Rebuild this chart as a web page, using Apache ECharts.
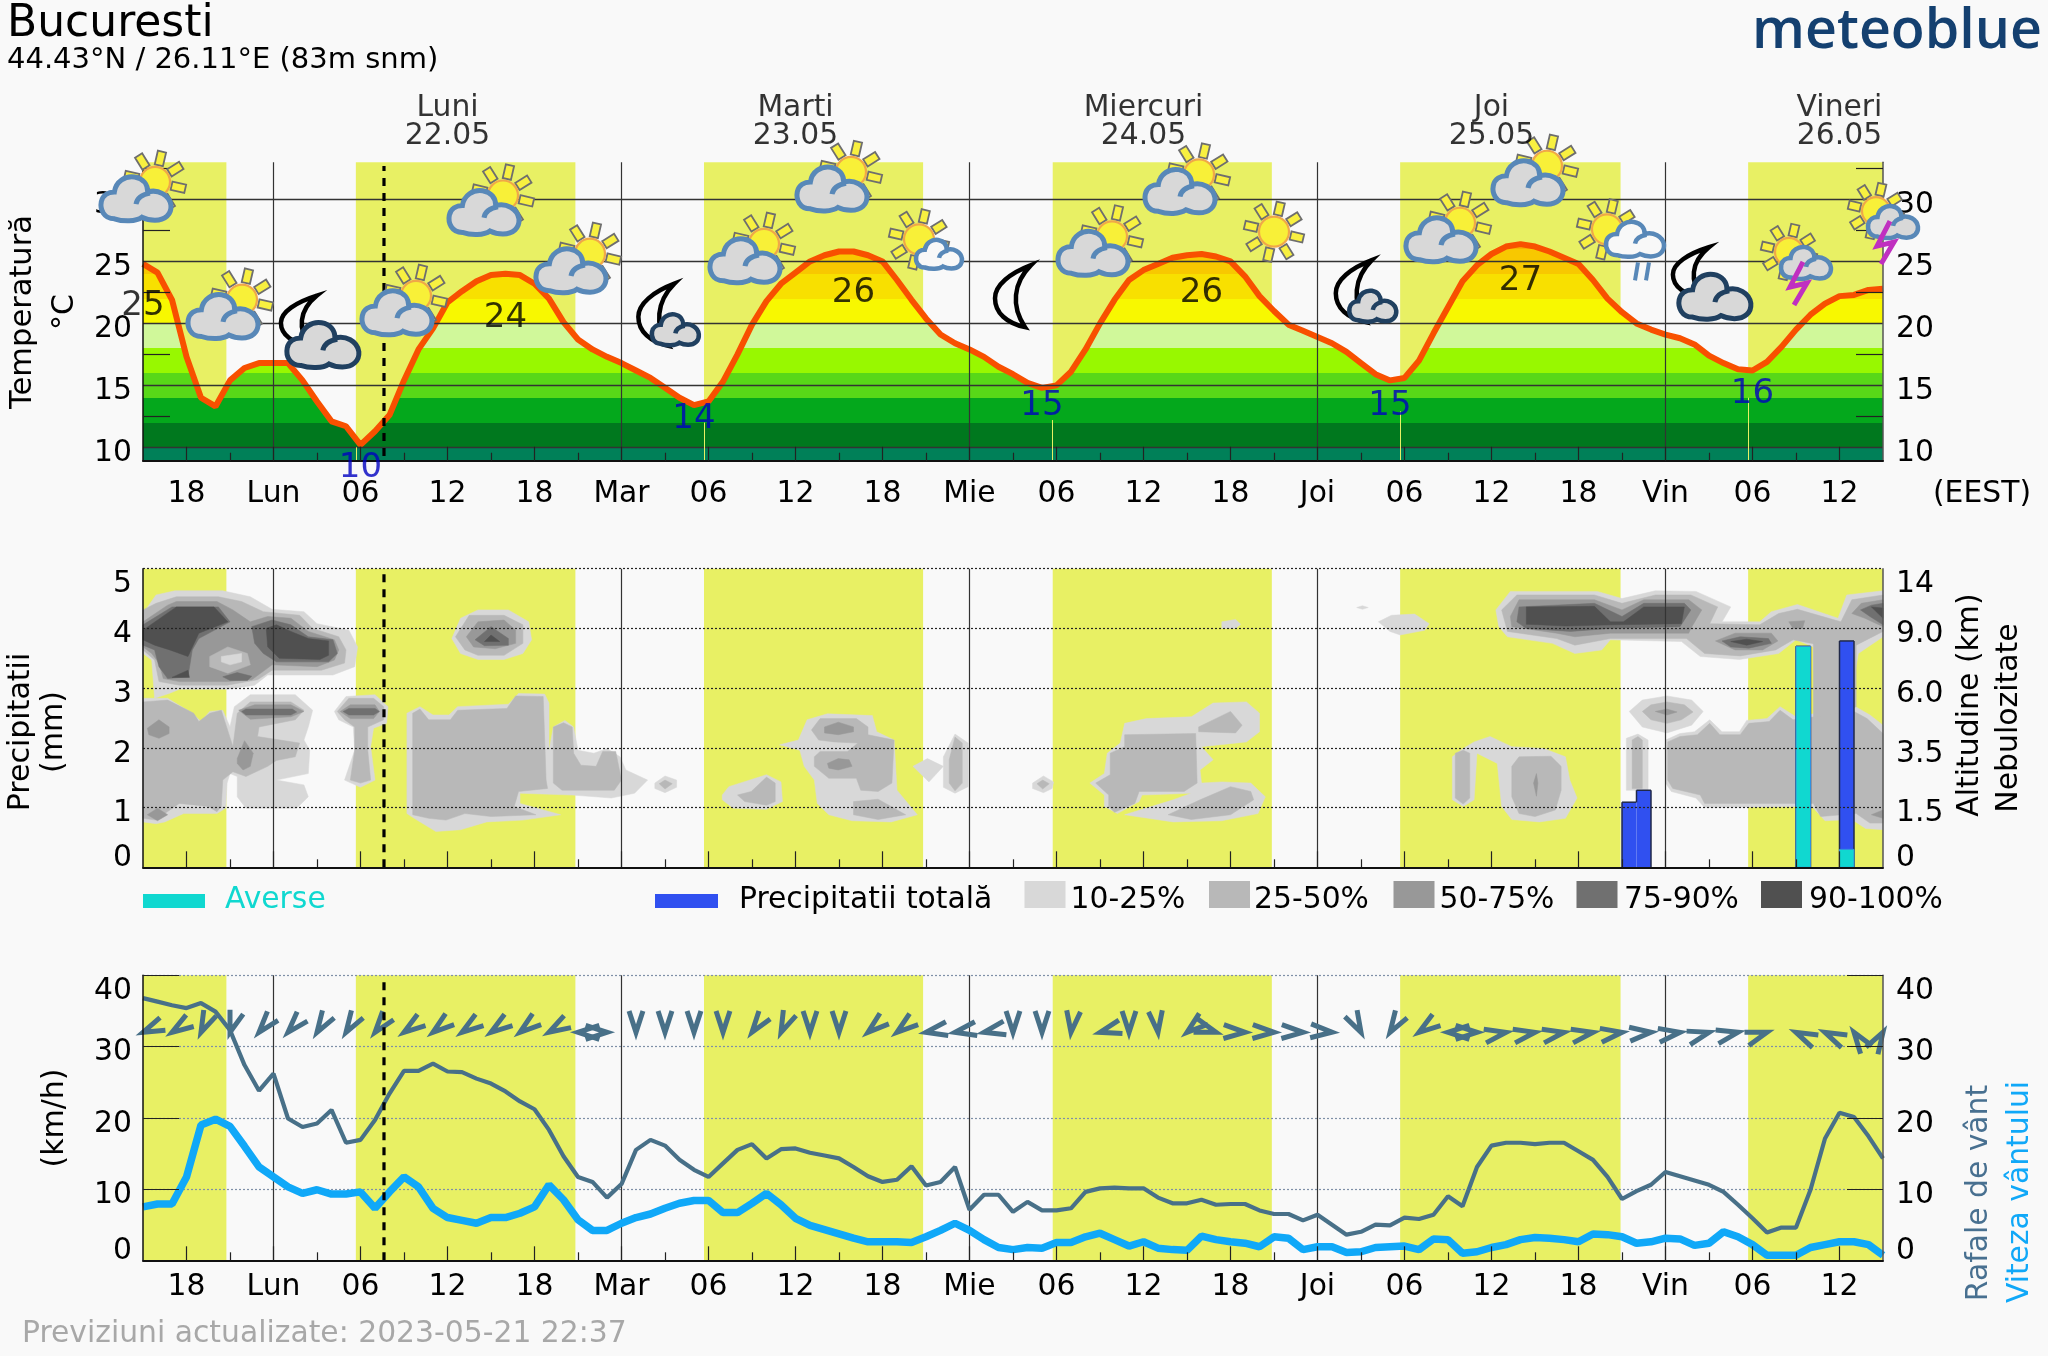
<!DOCTYPE html>
<html>
<head>
<meta charset="utf-8">
<style>html,body{margin:0;padding:0;background:#F9F9F9}#c{width:2048px;height:1356px}</style>
<script src="https://cdn.jsdelivr.net/npm/echarts@6/dist/echarts.min.js"></script>
</head>
<body>
<div id="c"></div>
<script>
// ---- hourly series, hour 0 = Sunday 15:00 ----
const temperature = [24.8,24.1,21.9,17.3,14.0,13.3,15.4,16.4,16.8,16.8,16.8,15.4,13.7,12.1,11.7,10.2,11.3,12.6,15.4,17.9,19.6,21.7,22.6,23.4,23.9,24.0,23.9,23.2,22.0,20.1,18.7,17.9,17.3,16.8,16.2,15.6,14.8,14.0,13.4,
13.7,15.3,17.5,19.9,21.8,23.2,24.1,25.0,25.5,25.8,25.8,25.5,25.0,23.5,21.9,20.4,19.1,18.4,17.9,17.3,16.5,15.9,15.2,14.8,15.0,16.1,17.9,20.0,21.9,23.5,24.3,24.8,25.3,25.5,25.6,25.4,25.0,23.8,22.2,21.0,19.9,19.4,18.9,18.4,17.7,
16.8,15.9,15.4,15.6,17.0,19.2,21.3,23.4,24.7,25.6,26.2,26.4,26.2,25.8,25.3,24.8,23.5,22.0,20.9,20.0,19.5,19.1,18.8,18.3,17.4,16.8,16.3,16.2,16.9,18.1,19.5,20.7,21.6,22.2,22.3,22.7,22.8];
const gusts = [36.8,36.3,35.8,35.4,36.1,34.9,32.3,27.4,23.8,26.2,19.9,18.7,19.2,21.1,16.5,16.9,19.7,23.4,26.6,26.6,27.6,26.5,26.4,25.5,24.8,23.7,22.3,21.2,18.3,14.6,11.7,11,8.8,10.7,15.5,16.9,16.1,14.1,12.7,
11.7,13.6,15.5,16.3,14.3,15.6,15.7,15.1,14.7,14.3,13.1,11.8,11,11.3,13.2,10.5,11,13.1,7.1,9.2,9.2,6.8,8.2,7,7,7.3,9.6,10.1,10.2,10.1,10.1,8.8,8,8,8.5,7.8,7.9,7.9,7,6.5,6.5,5.6,6.4,5,3.6,
4,5,4.9,6,5.8,6.4,9,7.6,13.1,16.1,16.5,16.5,16.3,16.5,16.5,15.3,14.1,11.7,8.6,9.7,10.6,12.4,11.8,11.2,10.6,9.6,7.8,5.9,3.9,4.6,4.6,9.9,17.1,20.7,20.1,17.4,14.3];
const windSpeed = [7.5,7.9,7.9,11.7,19,19.8,18.8,16,13.1,11.7,10.3,9.4,9.9,9.3,9.3,9.6,7.3,9.6,11.7,10.3,7.3,6,5.6,5.2,6,6,6.6,7.5,10.6,8.5,5.7,4.2,4.2,5.2,6,6.5,7.3,8,8.4,
8.4,6.7,6.7,8,9.4,7.8,5.9,4.9,4.3,3.7,3.1,2.6,2.6,2.6,2.5,3.3,4.2,5.2,4.2,2.9,1.8,1.5,1.8,1.7,2.5,2.5,3.3,3.8,2.9,2,2.6,1.7,1.5,1.4,3.4,2.9,2.6,2.4,1.9,3.3,3.1,1.5,1.9,1.9,1.1,
1.2,1.8,1.9,2,1.5,3,2.9,1,1.2,1.8,2.2,2.9,3.2,3.1,2.9,2.6,3.7,3.6,3.3,2.4,2.6,3.1,3,2.1,2.4,4,3.3,2.2,0.7,0.7,0.7,1.8,2.2,2.6,2.6,2.2,0.7];
// direction the wind arrow points, every second hour, degrees clockwise from north
const windBearing = [247,237,205,198,220,222,212,212,218,235,232,235,235,232,240,270,90,180,180,180,180,216,204,180,180,230,232,260,260,258,180,180,187,255,180,173,231,108,92,92,92,94,152,212,235,270,90,80,80,80,80,82,85,82,75,78,72,295,295,325,31];

// ---- x axis ----
const tickHours  = [3,9,15,21,27,33,39,45,51,57,63,69,75,81,87,93,99,105,111,117];
const tickLabels = ['18','Lun','06','12','18','Mar','06','12','18','Mie','06','12','18','Joi','06','12','18','Vin','06','12'];
const minorHours = [6,12,18,24,30,36,42,48,54,60,66,72,78,84,90,96,102,108,114];
const midnightHours = [9,33,57,81,105];
const dayNames  = ['Luni','Marti','Miercuri','Joi','Vineri'];
const dayDates  = ['22.05','23.05','24.05','25.05','26.05'];
const dayCentreHours = [21,45,69,93,117];
const nowHour = 16.62;
const sunrise = [0,14.68,38.69,62.74,86.7,110.7];
const sunset  = [5.75,29.82,53.8,77.85,101.9,120];
const sunriseMarkHours = [14.68,38.69,62.74,86.7,110.7];
const sunriseMarkTops  = [10,12,12.2,12.9,14];

// ---- temperature extremes ----
const maxHours = [0,25,49,73,95];
const maxTemps = [25,24,26,26,27];
const minHours = [15,38,62,86,111];
const minTemps = [10,14,15,15,16];

// ---- weather symbols ----
const iconHours = [0,6,12.2,18,24,30,36.3,42,48,54,60,66,72,78,84.4,90,96,102,108.2,114,120];
const iconTemps = [31.1,21.6,19.3,21.9,30,25.3,20.7,26.1,31.9,26.7,22.2,26.7,31.7,27.4,22.6,27.8,32.4,26.7,23.2,25.2,28.5];
const iconKinds = ['sunCloud','sunCloud','moonCloud','sunCloud','sunCloud','sunCloud','moonSmall','sunCloud','sunCloud','sunSmall','moon','sunCloud','sunCloud','sun','moonSmall','sunCloud','sunCloud','sunRain','moonCloud','sunThunder','sunThunder'];

// ---- precipitation ----
const rainHours = [102.5,103.5,114.5,117.5];
const rainTotal = [1.09,1.29,3.7,3.79];
const rainShower = [0,0,3.7,0.3];
const altitudeLabels = ['0','1.5','3.5','6.0','9.0','14'];

// ---- cloud contours: flat lists of hour, level ----
const cloud10 = [
[0,4.25,.9,4.56,2.2,4.63,5.5,4.63,7.4,4.53,8.9,4.32,11.1,4.28,12,4.08,14.2,3.97,14.8,3.69,14.6,3.36,13.1,3.22,8.6,3.22,7.7,3.05,5.8,2.98,2.5,2.98,1.8,2.91,.8,2.83,.6,3.47,0,3.58],
[0,2.83,1.7,2.83,3.4,2.58,4,2.44,4.6,2.61,5.5,2.63,6,2.35,6.3,2.69,7.4,2.89,10.5,2.89,11.7,2.63,11.4,2.35,11.1,2.13,11.5,1.96,11.4,1.57,9.2,1.46,11.1,1.38,11.4,1.18,10.6,.99,7.1,.99,6.5,1.18,6.5,1.52,6,1.57,5.8,1.41,5.7,.99,5.1,.9,2.8,.9,1.5,.76,.9,.73,0,.76],
[13.2,2.61,14,2.86,16,2.89,16.9,2.69,16.8,2.41,15.9,2.33,15.7,2.02,16,1.46,15,1.34,13.9,1.46,14.6,1.96,14.5,2.35,13.5,2.47],
[21.3,3.83,21.9,4.17,23.1,4.31,25.2,4.31,26.6,4.11,26.8,3.81,26.2,3.58,24.9,3.48,23.1,3.48,21.9,3.58],
[18.2,2.58,19.1,2.69,20,2.55,21.1,2.55,21.7,2.69,25.2,2.73,25.9,2.91,27.7,2.9,28,2.75,28,1.96,28.3,2.35,29.1,2.46,29.7,2.35,30,1.96,31.1,1.91,32,1.99,32.9,1.85,33.3,1.63,34.8,1.46,33.9,1.24,32.3,1.16,29.6,1.21,26,1.24,26,1.07,28.8,.88,26.2,.79,23.7,.76,21.9,.63,20.2,.6,18.9,.79,18.2,.9],
[35.3,1.41,36,1.53,36.8,1.46,36.8,1.34,36,1.25,35.3,1.32],
[39.95,1.21,40.4,1.35,43,1.55,44,1.43,44.1,1.1,43,.97,40.7,.99,39.95,1.13],
[43.9,2.05,45.2,2.13,45.8,2.47,47.2,2.57,50.3,2.54,50.6,2.27,51.8,2.13,52,1.29,53.4,.88,51.6,.76,48.9,.78,47.3,.88,46.5,1.07,46.3,1.46,45.6,1.69,45.3,1.96],
[53.1,1.69,54.1,1.82,55.2,1.69,54.2,1.43],
[55.2,1.85,56,2.23,56.9,2.08,56.9,1.35,56,1.24,55.2,1.34],
[61.35,1.41,62.1,1.53,62.8,1.43,62.7,1.32,62.1,1.25,61.35,1.32],
[65.3,1.41,66.3,1.57,66.5,1.91,67.4,2.08,67.7,2.41,69.2,2.49,72.3,2.52,73.8,2.75,76.1,2.77,77,2.58,77,2.27,76.1,2.1,73,2.02,73.8,1.8,72.9,1.63,73,1.41,74.4,1.43,76.4,1.41,77.4,1.18,76.9,.9,74.4,.78,71.05,.76,67.7,.88,71.05,1.13,72.3,1.24,68.9,1.21,68.7,1.1,67.2,.9,66.3,1.02,66.3,1.21],
[74.4,4.11,75.35,4.15,75.7,4.07,75.35,4,74.4,4],
[83.7,4.35,84.1,4.38,84.5,4.35,84.1,4.32],
[85.2,4.11,86.1,4.22,87.7,4.24,88.7,4.08,88.4,3.97,86.7,3.89,86,3.95],
[90.3,1.85,91.05,1.99,91.8,2.1,92.9,2.19,94.4,2.02,96.6,1.99,98.1,1.85,98.4,1.46,98.9,1.16,98.1,.82,96.3,.76,94.4,.8,93.7,1.02,93.4,1.74,92,1.91,91.8,1.13,91.05,1.02,90.3,1.13],
[93.3,4.31,94.3,4.62,100.3,4.62,102,4.5,104.3,4.63,107.1,4.62,109.5,4.36,108.9,4.11,111.5,4.11,112.3,4.28,114.1,4.4,116.9,4.17,117.5,4.56,120,4.63,120,3.86,118.3,3.58,118.1,3.3,115.2,3.3,115.2,3.69,114,3.81,112.8,3.58,110.1,3.48,107.4,3.53,106.1,3.78,101.2,3.81,100.6,3.64,98.75,3.58,97.2,3.75,94.1,3.86,93.5,4.03],
[102.5,2.61,103.4,2.8,105.1,2.87,106.8,2.8,107.6,2.61,106.8,2.38,105.1,2.25,103.4,2.35],
[102.3,2.16,103.1,2.23,103.8,2.13,103.8,1.29,102.3,1.29],
[105,2.13,106,2.24,107,2.27,108.05,2.47,108.9,2.27,110.1,2.27,110.6,2.46,112,2.49,112.9,2.69,114,2.52,118.1,2.69,119.1,2.55,120,2.38,120,.63,118.8,.65,117.85,.8,116,.78,115.1,1.02,107.7,1,107.1,1.16,105.4,1.27,105,1.41]
];
const cloud25 = [
[0,4.31,.9,4.42,2.3,4.53,5.2,4.53,6.8,4.45,8.3,4.28,10.8,4.22,11.7,4,13.5,3.86,14,3.64,13.9,3.42,12.3,3.3,8.9,3.3,7.9,3.14,5.8,3.05,2.5,3.05,1.1,3.11,.8,3.47,0,3.64],
[0,2.77,1.7,2.8,3.5,2.58,3.85,2.44,4.6,2.58,5.4,2.63,6.2,2.02,6.5,2.58,7.4,2.77,10.2,2.77,11.1,2.63,10.5,2.47,8,2.35,7.9,2.19,10.8,2.08,10.5,1.85,9.2,1.79,8.6,1.69,7.1,1.52,6.2,1.6,5.5,1.46,5.4,1.02,5.1,.93,4.5,1.02,2.5,1.07,1.5,.9,.9,.79,0,.82],
[13.4,2.61,14.2,2.83,15.9,2.83,16.6,2.69,16.6,2.47,15.5,2.35,15.5,1.96,15.7,1.46,15,1.41,14.3,1.46,14.6,1.96,14.6,2.35,13.9,2.47],
[21.55,3.86,22.5,4.22,24.9,4.22,26.2,4.06,26.2,3.75,24.9,3.55,23.1,3.55,22.2,3.64],
[18.6,2.58,19.1,2.65,19.7,2.47,21.2,2.47,21.7,2.63,25.1,2.66,25.7,2.87,27.6,2.86,27.8,1.46,27.9,1.32,25.9,1.27,25.6,1.02,27.1,.88,24,.85,22.2,.9,20.9,.79,19.7,.82,18.6,.88],
[28.3,2.35,29,2.42,29.6,2.35,29.7,1.91,30.2,1.71,31.25,1.69,31.7,1.94,32.6,1.94,33,1.46,32.5,1.29,28.9,1.29,28.3,1.41],
[35.6,1.4,36,1.46,36.5,1.4,36,1.31],
[41,1.21,41.95,1.27,43,1.51,43.6,1.41,43.6,1.1,43,1.04,41.5,1.1],
[46.1,2.3,46.7,2.49,49.2,2.49,50,2.35,50,2.22,51.8,2.13,51.65,1.41,50.7,1.27,49.5,1.29,49.2,1.49,47.3,1.49,46.3,1.69,46.3,1.85,46.7,1.94,48.6,1.94,49.3,2.08,47.65,2.1,46.6,2.13],
[49,1.1,50.7,1.14,52.6,.88,50.7,.8,49,.88],
[55.6,1.8,56,2.18,56.5,2.08,56.5,1.41,56,1.28,55.6,1.41],
[61.65,1.4,62.05,1.46,62.5,1.4,62.05,1.31],
[65.7,1.41,66.7,1.55,66.7,1.91,67.7,2.02,67.7,2.22,72.6,2.24,72.7,1.41,71.8,1.27,68.7,1.27,68.4,1.07,67,.92,66.6,1.02,66.6,1.21],
[72.8,2.35,75,2.61,75.8,2.38,75.35,2.25,72.8,2.27],
[70.7,.88,72.9,1.13,75,1.35,76.4,1.27,76.6,1.13,75,.88,72.3,.8],
[90.5,1.91,91.05,1.96,91.5,1.91,91.5,1.16,91.05,1.06,90.5,1.16],
[94.4,1.69,94.9,1.85,97.1,1.86,97.8,1.69,97.8,1.29,97.4,.96,96,.85,94.9,.9,94.4,1.18],
[93.7,4.31,94.75,4.56,100.1,4.56,102,4.42,104.3,4.56,106.75,4.56,108.6,4.36,108.05,4.08,111.5,4.06,112.8,4.25,114.1,4.32,117.1,4.11,117.85,4.48,120,4.56,120,3.95,118.15,3.72,115.7,3.72,113.8,3.81,112.6,3.64,110.15,3.54,107.7,3.58,106.45,3.83,101.2,3.83,98.75,3.72,97.5,3.83,94.1,3.95],
[115.2,3.75,118.15,3.75,118.15,2.69,115.2,2.35],
[103.4,2.61,104,2.72,105.1,2.77,106.3,2.72,106.9,2.6,106.1,2.47,105.1,2.41,104,2.47],
[102.7,2.13,103.1,2.19,103.4,2.13,103.4,1.32,102.7,1.32],
[105.15,2.1,106,2.19,107.2,2.22,108.05,2.41,108.75,2.22,110.15,2.22,110.75,2.41,112.15,2.44,112.9,2.63,113.8,2.47,118,2.61,118.9,2.49,120,2.24,120,.74,119.1,.74,118.15,.9,115.7,.85,115.2,1.07,107.7,1.07,107.4,1.21,105.5,1.32,105.15,1.46]
];
const cloud50 = [
[0,4.11,1.7,4.39,2.3,4.45,5.1,4.45,6.2,4.31,7.4,4.11,8.6,4.2,10.2,4.17,11.4,3.95,13.2,3.81,13.5,3.64,13.2,3.47,12,3.36,8.9,3.39,7.5,3.14,5.8,3.11,2.5,3.11,1.4,3.16,1.1,3.42,.6,3.58,0,3.69],
[.3,2.33,1.1,2.47,1.8,2.35,1.8,2.24,1.1,2.16,.4,2.22],
[6.5,1.82,7,2.12,7.6,1.91,7.4,1.69,6.9,1.63,6.5,1.74],
[6.6,2.63,7.7,2.72,10.2,2.72,11.1,2.61,10.2,2.52,7.4,2.48],
[13.6,2.61,14.3,2.72,16,2.72,16.3,2.61,15.9,2.49,14.3,2.49],
[22.3,3.86,23.1,4.11,24.9,4.14,25.7,3.97,25.7,3.75,24.3,3.66,22.8,3.69],
[.3,.88,1,.99,1.7,.88,1,.78],
[47,2.35,47.95,2.43,49,2.35,49,2.27,47.95,2.22,47,2.25],
[47.2,1.74,47.95,1.82,48.7,1.8,48.9,1.69,47.95,1.63,47.3,1.66],
[95.9,1.41,96.1,1.57,96.2,1.41,96.1,1.19],
[94.3,4.2,94.9,4.48,100.1,4.48,102,4.31,103.5,4.48,106.6,4.48,107.5,4.31,106.75,4,106.6,3.92,101.2,3.92,98.75,3.86,97.5,3.92,94.4,4.03],
[108.45,3.79,109.8,3.92,112.3,3.92,112.75,3.79,111.7,3.64,109.8,3.64],
[117.85,4.25,118.5,4.42,120,4.48,120,4.03,118.75,4.17],
[113.5,4.11,114.6,4.13,114.45,4,113.8,4],
[104.3,2.61,105.1,2.65,105.8,2.6,105.1,2.55],
[119.2,.88,120,.96,120,.82]
];
const clearing25 = [[4.6,3.53,5.85,3.69,7.2,3.58,7.4,3.39,5.85,3.25,4.6,3.36]];
const clearing10 = [[5.4,3.53,6.8,3.58,6.8,3.44,6,3.39,5.4,3.44]];
const cloud75 = [
[0,4.06,2,4.36,5.2,4.36,6,4.11,3.85,3.83,3.4,3.64,3.1,3.19,1.7,3.16,1.1,3.36,.8,3.64,0,3.72],
[7.5,4.03,8.9,4.14,10.2,4.06,11.4,3.86,13.1,3.81,13.4,3.58,12.8,3.44,9.2,3.44,8.3,3.58,7.7,3.75],
[5.5,3.19,6.5,3.26,7.5,3.2,7.2,3.13,6,3.13],
[6.8,2.61,7.1,2.65,10.3,2.65,10.6,2.6,10.2,2.55,7.1,2.55],
[13.8,2.61,14.2,2.66,16,2.66,16.3,2.61,15.9,2.55,14.2,2.55],
[22.9,3.81,24,4.03,25.2,3.83,25.2,3.72,23.55,3.71],
[94.9,4.36,100.1,4.42,102,4.2,103.5,4.42,106.3,4.42,106.75,4.31,106,4.03,101.2,4,98.45,3.95,95.4,4,94.75,4.11],
[108.9,3.79,110.15,3.86,112.1,3.83,112.3,3.75,110.75,3.67,109.5,3.69],
[118.45,4.31,119.2,4.39,120,4.42,120,4.06,119.1,4.2]
];
const cloud90 = [
[0,3.97,2.3,4.36,4.9,4.36,5.85,4.11,3.85,3.92,3.1,3.53,1.85,3.64,.8,3.72,0,3.81],
[2,3.18,3.1,3.3,3.2,3.18],
[8.5,4,9.2,4.06,10.2,3.95,11.4,3.83,12.8,3.79,12.8,3.55,12.2,3.48,9.4,3.5,8.6,3.69],
[23.55,3.78,24,3.89,24.6,3.78],
[95.4,4.36,100.1,4.37,101.2,4.11,102.1,4.11,103.5,4.36,106.3,4.36,106.1,4.08,101.5,4.06,98.1,4.04,95.4,4.07],
[109.5,3.78,110.6,3.82,111.7,3.78,110.6,3.72],
[119.2,4.36,120,4.34,120,4.17]
];

// ---- styling ----
const FONT = '"DejaVu Sans"';
const FS = 29.8;
const X0 = 143, XW = 1740;
const YELLOW = '#E8F064', DASH = '#000';
const TEMP_PIECES = [
 {lt:10,color:'#008058'},{gte:10,lt:12,color:'#00781E'},{gte:12,lt:14,color:'#04A81C'},{gte:14,lt:16,color:'#58D818'},
 {gte:16,lt:18,color:'#98F800'},{gte:18,lt:20,color:'#D0F89A'},{gte:20,lt:22,color:'#F8F800'},{gte:22,lt:24,color:'#F8E000'},
 {gte:24,lt:26,color:'#F8C800'},{gte:26,color:'#F8B000'}];

const ranges = [[8.92,33],[0,5],[0,40]];
const grids = [
 {left:X0,width:XW,top:162.3,height:298.4},
 {left:X0,width:XW,top:568.7,height:298.6},
 {left:X0,width:XW,top:975.3,height:285}
];
const xAxes = [], yAxes = [];
const xMargins = [19,0,12];
[0,1,2].forEach(i=>{
  const major = i===1 ? 16 : 14;
  xAxes.push({type:'value',gridIndex:i,min:0,max:120,interval:3,position:'bottom',z:8,
    axisLine:{show:true,onZero:false,lineStyle:{color:'#111',width:2}},
    axisTick:{show:true,inside:true,length:major,customValues:tickHours,lineStyle:{color:'#222',width:1.2}},
    axisLabel:{show:i!==1,customValues:tickHours,formatter:v=>tickLabels[tickHours.indexOf(v)],fontFamily:FONT,fontSize:FS,color:'#000',margin:xMargins[i],hideOverlap:false},
    splitLine:{show:false}});
  xAxes.push({type:'value',gridIndex:i,min:0,max:120,interval:3,position:'bottom',z:8,
    axisLine:{show:false,onZero:false},
    axisTick:{show:true,inside:true,length:8,customValues:minorHours,lineStyle:{color:'#222',width:1.2}},
    axisLabel:{show:false},splitLine:{show:false}});
});
const labelVals = [[10,15,20,25,30],[0,1,2,3,4,5],[0,10,20,30,40]];
const tickVals  = [[12.5,17.5,22.5,27.5,32.5],[0],[10,20,30,40]];
const tickLens  = [27,0,36];
const labelTokens = {
  m:{fontFamily:FONT,fontSize:FS,color:'#000',padding:[12,0,0,0]},
  t:{fontFamily:FONT,fontSize:FS,color:'#000',lineHeight:32},
  b:{fontFamily:FONT,fontSize:FS,color:'#000',lineHeight:18}
};
[0,1,2].forEach(i=>{
  ['left','right'].forEach(side=>{
    yAxes.push({type:'value',gridIndex:i,min:ranges[i][0],max:ranges[i][1],position:side,z:8,
      axisLine:{show:true,onZero:false,lineStyle:{color:side==='left'?'#111':'#555',width:1.5}},
      axisTick:{show:tickLens[i]>0,inside:true,length:tickLens[i],customValues:tickVals[i],lineStyle:{color:'#222',width:1.2}},
      axisLabel:{show:true,customValues:labelVals[i],rich:labelTokens,
        margin:side==='left'?11:13,hideOverlap:false,
        verticalAlignMinLabel:i?'bottom':undefined,verticalAlignMaxLabel:i?'top':undefined,
        formatter:v=>{
          const t=(i===1&&side==='right')?altitudeLabels[v]:String(v);
          const tok=(i>0&&v===ranges[i][0])?'b':((i>0&&v===ranges[i][1])?'t':'m');
          return '{'+tok+'|'+t+'}';
        }},
      splitLine:{show:false}});
  });
});

const axisRefs = i=>({xAxisIndex:i*2,yAxisIndex:i*2});

function bandsSeries(i){
  return {type:'custom',...axisRefs(i),z:1,silent:true,animation:false,clip:false,
    data:sunrise.map((s,k)=>[s,sunset[k]]),encode:{x:[0,1]},
    renderItem:(p,api)=>{
      const a=api.coord([api.value(0),ranges[i][1]]),b=api.coord([api.value(1),ranges[i][0]]);
      return {type:'rect',shape:{x:a[0],y:a[1],width:b[0]-a[0],height:b[1]-a[1]},style:{fill:YELLOW}};
    }};
}
function gridLinesSeries(i,vals,style,z){
  const lines = vals.map(v=>({yAxis:v}));
  return {type:'line',...axisRefs(i),data:[],z,silent:true,animation:false,
    markLine:{silent:true,symbol:'none',animation:false,label:{show:false},lineStyle:style,data:lines}};
}
function dayLinesSeries(i,z){
  return {type:'line',...axisRefs(i),data:[],z,silent:true,animation:false,
    markLine:{silent:true,symbol:'none',animation:false,label:{show:false},lineStyle:{color:'#333',width:1.2,type:'solid'},
      data:midnightHours.map(h=>({xAxis:h}))}};
}
function nowSeries(i,y0,y1){
  return {type:'line',...axisRefs(i),z:7,silent:true,animation:false,showSymbol:false,symbol:'none',clip:false,
    data:[[nowHour,y0],[nowHour,y1]],
    lineStyle:{color:DASH,width:3.2,type:[8,7]}};
}
function polySeries(list,color,z){
  return {type:'custom',...axisRefs(1),z,silent:true,animation:false,
    data:list.map(p=>[p[0],p[1]]),encode:{x:0,y:1},
    renderItem:(params,api)=>{
      const flat=list[params.dataIndex],pts=[];
      for(let k=0;k<flat.length;k+=2) pts.push(api.coord([flat[k],flat[k+1]]));
      return {type:'polygon',shape:{points:pts},style:{fill:color,stroke:color,lineWidth:0.5}};
    }};
}
// rain bars with a single outline around touching bars
function rainTotalSeries(){
  const OUT='#202848';
  const neighbour=(k,d)=>{const n=k+d; return (n>=0&&n<rainHours.length&&Math.abs(rainHours[n]-rainHours[k])===1)?rainTotal[n]:0;};
  return {type:'custom',...axisRefs(1),z:3,silent:true,animation:false,
    data:rainHours.map((h,k)=>[h,rainTotal[k]]),encode:{x:0,y:1},
    renderItem:(p,api)=>{
      const k=p.dataIndex,h=api.value(0),v=api.value(1);
      const a=api.coord([h-.5,v]),b=api.coord([h+.5,0]);
      const lft=api.coord([h-.5,Math.min(v,neighbour(k,-1))]),rgt=api.coord([h+.5,Math.min(v,neighbour(k,1))]);
      const st={stroke:OUT,lineWidth:1.5};
      return {type:'group',children:[
        {type:'rect',shape:{x:a[0],y:a[1],width:b[0]-a[0],height:b[1]-a[1]},style:{fill:'#3050F0'}},
        {type:'line',shape:{x1:a[0],y1:a[1],x2:b[0],y2:a[1]},style:st},
        {type:'line',shape:{x1:a[0],y1:a[1],x2:a[0],y2:lft[1]},style:st},
        {type:'line',shape:{x1:b[0],y1:a[1],x2:b[0],y2:rgt[1]},style:st}
      ]};
    }};
}
function rainShowerSeries(){
  return {type:'custom',...axisRefs(1),z:3.5,silent:true,animation:false,
    data:rainHours.map((h,k)=>[h,rainShower[k]]),encode:{x:0,y:1},
    renderItem:(p,api)=>{
      const h=api.value(0),v=api.value(1);
      if(!v) return null;
      const a=api.coord([h-.5,v]),b=api.coord([h+.5,0]);
      return {type:'rect',shape:{x:a[0],y:a[1],width:b[0]-a[0],height:b[1]-a[1]},style:{fill:'#10D8D0',stroke:'#3090E0',lineWidth:1}};
    }};
}

// ---- weather symbols, drawn with the library's graphic elements ----
const CLOUD_PATH='M20,58 C5,58 0,45 2,35 C4,26 12,22 20,22 C22,8 35,0 48,2 C60,4 66,12 66,22 C80,18 96,26 98,40 C99,52 90,60 76,60 C68,60 62,58 58,56 C50,62 32,62 20,58 Z';
const MOON_PATH='M36,0 C15,8 0,20 0,33 C0,48 12,58 30,62 C22,50 20,40 21,30 C22,18 28,8 36,0 Z';
function sunParts(cx,cy,r,R){
  const out=[];
  for(let k=0;k<8;k++){
    const a=(13+45*k)*Math.PI/180,s=Math.sin(a),c=Math.cos(a),hw=4.2,r0=r+2;
    out.push({type:'polygon',shape:{points:[
      [cx+s*r0-c*hw,cy-c*r0-s*hw],[cx+s*R-c*hw,cy-c*R-s*hw],[cx+s*R+c*hw,cy-c*R+s*hw],[cx+s*r0+c*hw,cy-c*r0+s*hw]]},
      style:{fill:'#F8F040',stroke:'#6E6E6E',lineWidth:1.8}});
  }
  out.push({type:'circle',shape:{cx,cy,r},style:{fill:'#F8F038',stroke:'#F0A848',lineWidth:2.2}});
  return out;
}
function cloudParts(cx,cy,w,h,fill,stroke,lw){
  const x=cx-w/2,y=cy-h/2;
  return [
    {type:'path',shape:{pathData:CLOUD_PATH,layout:'cover',x,y,width:w,height:h},style:{fill,stroke,lineWidth:lw}},
    {type:'bezierCurve',shape:{x1:x+.5*w,y1:y+.62*h,cpx1:x+.52*w,cpy1:y+.42*h,x2:x+.7*w,y2:y+.37*h},style:{fill:'none',stroke,lineWidth:lw}}
  ];
}
function moonParts(cx,cy,w,h){
  return [{type:'path',shape:{pathData:MOON_PATH,layout:'cover',x:cx-w/2,y:cy-h/2,width:w,height:h},style:{fill:'#F9F9F9',stroke:'#000',lineWidth:4.5}}];
}
const BLUE='#5888B8',NAVY='#204060';
function boltParts(cx,cy){
  return [{type:'polyline',shape:{points:[[cx+6,cy-21],[cx-7,cy+4],[cx+10,cy],[cx-3,cy+22]]},style:{fill:'none',stroke:'#C030C0',lineWidth:5}}];
}
const ICONS={
  sunCloud:()=>[...sunParts(12,-4,15,31),...cloudParts(-7,13,70,44,'#D8D8D8',BLUE,5)],
  moonCloud:()=>[...moonParts(-21,-11,36,51),...cloudParts(3,13,72,45,'#D8D8D8',NAVY,5)],
  moonSmall:()=>[...moonParts(-13,0,36,62),...cloudParts(6,15,47,31,'#D8D8D8',NAVY,4.5)],
  moon:()=>moonParts(0,0,36,62),
  sun:()=>sunParts(0,0,15,30),
  sunSmall:()=>[...sunParts(-7,-1,15,30),...cloudParts(13,14,46,29,'#F8F8F8',BLUE,4.5)],
  sunRain:()=>[...sunParts(-15,-11,15,30),...cloudParts(13,-1,58,35,'#F8F8F8',BLUE,4.5),
    {type:'line',shape:{x1:16,y1:22,x2:13,y2:40},style:{stroke:BLUE,lineWidth:4}},
    {type:'line',shape:{x1:27,y1:22,x2:24,y2:40},style:{stroke:BLUE,lineWidth:4}}],
  sunThunder:()=>[...sunParts(-7,-7,14,28),...cloudParts(10,4,50,32,'#D8D8D8',BLUE,4.5),...boltParts(1,24)]
};

function chevronSeries(){
  const level=32,L=22.5,half=18*Math.PI/180;
  return {type:'custom',...axisRefs(2),z:6,silent:true,animation:false,clip:false,
    data:windBearing.map((b,k)=>[k*2,b]),encode:{x:0},
    renderItem:(p,api)=>{
      const c=api.coord([api.value(0),level]),a=(api.value(1)+180)*Math.PI/180;
      const arm=d=>[c[0]+L*Math.sin(a+d),c[1]-L*Math.cos(a+d)];
      return {type:'polyline',shape:{points:[arm(half),[c[0],c[1]],arm(-half)]},style:{fill:'none',stroke:'#487088',lineWidth:5}};
    }};
}

const hourly = arr => arr.map((v,k)=>[k,v]);
const series = [
  bandsSeries(0),bandsSeries(1),bandsSeries(2),
  // panel 1
  {id:'tempArea',type:'line',...axisRefs(0),z:2,animation:false,symbol:'none',silent:true,data:hourly(temperature),
    lineStyle:{width:0},areaStyle:{opacity:1,origin:'start'}},
  gridLinesSeries(0,labelVals[0],{color:'#333',width:1.4,type:'solid'},3),
  dayLinesSeries(0,3),
  {type:'line',...axisRefs(0),data:[],z:3,silent:true,animation:false,
    markLine:{silent:true,symbol:'none',animation:false,label:{show:false},lineStyle:{color:YELLOW,width:1,type:'solid'},
      data:sunriseMarkHours.map((h,k)=>[{coord:[h,ranges[0][0]]},{coord:[h,sunriseMarkTops[k]]}])}},
  {type:'line',...axisRefs(0),z:4,animation:false,symbol:'none',silent:true,data:hourly(temperature),
    lineStyle:{color:'#F85000',width:6}},
  nowSeries(0,9.3,32.7),
  {type:'custom',...axisRefs(0),z:10,silent:true,animation:false,clip:false,
    data:iconHours.map((h,k)=>[h,iconTemps[k]]),encode:{x:0,y:1},
    renderItem:(p,api)=>{
      const c=api.coord([api.value(0),api.value(1)]);
      return {type:'group',x:c[0],y:c[1],children:ICONS[iconKinds[p.dataIndex]]()};
    }},
  {type:'scatter',...axisRefs(0),z:11,clip:false,silent:true,animation:false,symbolSize:0,
    data:maxHours.map((h,k)=>[h,maxTemps[k]-3.6,maxTemps[k]]),encode:{x:0,y:1},
    label:{show:true,position:'inside',formatter:p=>p.value[2],fontFamily:FONT,fontSize:34,color:'#000'}},
  {type:'scatter',...axisRefs(0),z:11,clip:false,silent:true,animation:false,symbolSize:0,
    data:minHours.map((h,k)=>[h,minTemps[k]-1.7,minTemps[k]]),encode:{x:0,y:1},
    label:{show:true,position:'inside',formatter:p=>p.value[2],fontFamily:FONT,fontSize:34,color:'#0000C0'}},
  {type:'scatter',...axisRefs(0),z:11,clip:false,silent:true,animation:false,symbolSize:0,
    data:dayCentreHours.map((h,k)=>[h,36.2,k]),encode:{x:0,y:1},
    label:{show:true,position:'inside',formatter:p=>dayNames[p.value[2]]+'\n'+dayDates[p.value[2]],fontFamily:FONT,fontSize:FS,lineHeight:28,color:'#000'}},
  // panel 2
  polySeries(cloud10,'#D8D8D8',2),
  polySeries(cloud25,'#B8B8B8',2.1),
  polySeries(cloud50,'#989898',2.2),
  polySeries(clearing25,'#B8B8B8',2.3),
  polySeries(clearing10,'#D8D8D8',2.4),
  polySeries(cloud75,'#707070',2.5),
  polySeries(cloud90,'#505050',2.6),
  rainTotalSeries(),
  rainShowerSeries(),
  gridLinesSeries(1,[1,2,3,4,5],{color:'#222',width:1.2,type:[2,2]},4),
  dayLinesSeries(1,4),
  nowSeries(1,0,4.95),
  // panel 3
  gridLinesSeries(2,[10,20,30,40],{color:'#7F90A8',width:1.2,type:[2,2]},2),
  dayLinesSeries(2,2.5),
  {type:'line',...axisRefs(2),z:5,animation:false,symbol:'none',silent:true,data:hourly(gusts),lineStyle:{color:'#487088',width:4.2}},
  {type:'line',...axisRefs(2),z:5.5,animation:false,symbol:'none',silent:true,data:hourly(windSpeed),lineStyle:{color:'#10A8F8',width:7.5}},
  chevronSeries(),
  nowSeries(2,0,39.2)
];

// ---- free text and legend ----
function txt(text,x,baseline,opt){
  opt=opt||{};
  const size=opt.size||FS;
  return {type:'text',x,y:baseline-size*0.27,silent:true,z:20,
    style:{text,fill:opt.color||'#000',font:`${opt.weight||'normal'} ${size}px ${opt.family||FONT}`,
      textAlign:opt.align||'left',textVerticalAlign:'middle'}};
}
function vert(text,x,y,opt){
  opt=opt||{};
  return {type:'text',x:x+3,y,rotation:Math.PI/2,silent:true,z:20,
    style:{text,fill:opt.color||'#000',font:`${opt.size||FS}px ${FONT}`,textAlign:'center',textVerticalAlign:'middle'}};
}
const swatch=(x,y,w,h,color)=>({type:'rect',silent:true,z:20,shape:{x,y,width:w,height:h},style:{fill:color}});
const legendGrey=[[1024.5,1070.5,'10-25%','#D8D8D8'],[1209,1254,'25-50%','#B8B8B8'],[1393.5,1439.5,'50-75%','#989898'],[1576.5,1624,'75-90%','#707070'],[1761,1809,'90-100%','#505050']];
const graphicEls=[
  txt('Bucuresti',7,36,{size:44}),
  txt('44.43°N / 26.11°E (83m snm)',7,68,{size:29}),
  txt('meteoblue',2042,47,{size:55.5,align:'right',family:'"Open Sans"',weight:600,color:'#144070'}),
  vert('Temperatură',20.5,312,{size:30.5}),
  vert('°C',62.5,312,{size:30}),
  vert('Precipitatii',18.5,732,{size:30}),
  vert('(mm)',51,732,{size:30}),
  vert('(km/h)',52,1118,{size:30}),
  vert('Altitudine (km)',1967,705,{size:29.9}),
  vert('Nebulozitate',2006.5,718,{size:29.9}),
  vert('Rafale de vânt',1976,1193,{size:29.8,color:'#487090'}),
  vert('Viteza vântului',2017,1192,{size:29.8,color:'#10A8F8'}),
  txt('(EEST)',1982,502,{align:'center'}),
  txt('Previziuni actualizate: 2023-05-21 22:37',22,1342,{color:'#A8A8A8'}),
  swatch(143,894,62,14,'#10D8D0'),
  txt('Averse',225,908,{color:'#10D8D0'}),
  swatch(655,894,63,14,'#3050F0'),
  txt('Precipitatii totală',739,908),
];
legendGrey.forEach(g=>{
  graphicEls.push(swatch(g[0],881,41,27,g[3]));
  graphicEls.push(txt(g[2],g[1],908));
});

const chart=echarts.init(document.getElementById('c'),null,{renderer:'canvas',width:2048,height:1356});
chart.setOption({
  backgroundColor:'#F9F9F9',animation:false,
  grid:grids,xAxis:xAxes,yAxis:yAxes,
  visualMap:[{type:'piecewise',show:false,seriesIndex:3,dimension:1,pieces:TEMP_PIECES}],
  series,
  graphic:{elements:graphicEls}
});
</script>
</body>
</html>
